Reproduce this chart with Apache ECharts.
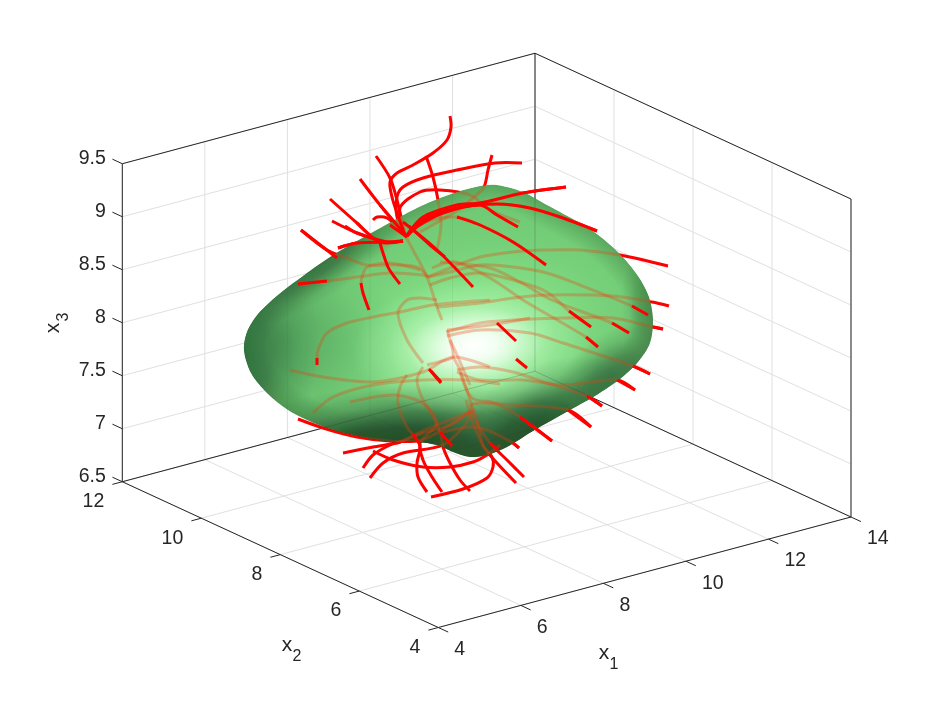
<!DOCTYPE html>
<html><head><meta charset="utf-8">
<style>html,body{margin:0;padding:0;background:#fff}#c{width:940px;height:706px}</style>
<script src="https://cdn.jsdelivr.net/npm/echarts@6/dist/echarts.min.js"></script>
</head><body><div id="c"></div>
<script>
// Axis ticks
const x1Ticks = [4, 6, 8, 10, 12, 14];
const x2Ticks = [4, 6, 8, 10, 12];
const x3Ticks = [6.5, 7, 7.5, 8, 8.5, 9, 9.5];
const x3Labels = ['6.5', '7', '7.5', '8', '8.5', '9', '9.5'];

// Surface silhouette, read in the projected view plane
const surfaceOutline = [[244,350],[247,332],[258,314],[278,295],[303,276],[327,259],[350,245],[373,232],[407,213],[430,202],[457,192],[480,186],[497,185],[523,192],[547,205],[580,223],[597,234],[620,254],[638,276],[649,297],[653,320],[650,343],[638,362],[620,379],[595,396],[570,410],[533,431],[507,447],[487,455],[470,457],[453,452],[437,445],[417,442],[390,442],[367,438],[333,430],[307,420],[288,410],[268,394],[251,373]];

// Trajectories that run behind the surface, projected view plane
const behind01 = [[450,116],[451,127],[447,140],[433,153],[413,165],[397,173],[390,182],[392,197],[397,213],[405,235]];
const behind02 = [[376,156],[390,178],[397,200],[405,235]];
const behind03 = [[426,156],[433,177],[438,200],[441,225],[437,250]];
const behind04 = [[522,163],[495,163],[457,170],[423,178],[403,187],[397,197],[397,217],[405,235]];
const behind05 = [[405,235],[400,208],[420,192],[440,190],[470,195],[490,210],[520,222]];
const behind06 = [[492,155],[488,170],[484,187],[473,198],[455,212],[420,232]];
const behind07 = [[360,179],[380,205],[407,237]];
const behind08 = [[330,199],[357,223],[380,242],[403,241]];
const behind09 = [[332,221],[357,233],[387,242],[403,241]];
const behind10 = [[301,230],[327,250],[347,258],[367,265],[390,265],[417,267],[428,277]];
const behind11 = [[338,248],[357,243],[387,242],[403,241]];
const behind12 = [[373,220],[377,217],[387,218],[397,227],[407,237]];
const behind13 = [[566,187],[523,193],[480,203],[457,205],[423,217],[407,235]];
const behind14 = [[597,231],[563,218],[530,208],[497,204],[457,208],[423,220],[407,236]];
const behind15 = [[518,227],[497,215],[480,205],[443,213],[418,226],[407,236]];
const behind16 = [[546,265],[513,242],[480,225],[457,217],[425,222],[407,236]];
const behind17 = [[668,266],[620,255],[580,250],[547,250],[513,252],[480,257],[450,268],[428,277]];
const behind18 = [[669,306],[652,302],[613,296],[547,295],[513,298],[480,303],[437,307]];
const behind19 = [[648,315],[632,306],[580,285],[547,273],[513,267],[480,265],[450,272],[428,277]];
const behind20 = [[591,327],[569,311],[547,292],[520,282],[480,273],[450,278],[430,285]];
const behind21 = [[663,329],[653,327],[613,318],[563,318],[513,320],[480,323],[447,332]];
const behind22 = [[650,374],[633,366],[563,343],[530,333],[480,330],[447,336]];
const behind23 = [[629,333],[612,323],[552,300],[520,282],[490,268],[440,262]];
const behind24 = [[598,347],[586,337],[523,300],[490,278],[455,262],[432,268]];
const behind25 = [[602,406],[587,396],[547,383],[513,372],[480,367],[457,370]];
const behind26 = [[635,390],[617,380],[563,385],[523,380],[480,380],[457,372]];
const behind27 = [[591,427],[568,410],[513,405],[480,403],[470,405]];
const behind28 = [[552,441],[520,417],[495,403],[472,398],[460,372]];
const behind29 = [[519,448],[513,443],[487,430],[470,427],[440,433]];
const behind30 = [[298,419],[323,428],[357,437],[390,441],[422,440],[450,425],[470,412]];
const behind31 = [[313,413],[333,397],[373,385],[423,380],[467,380],[500,384]];
const behind32 = [[343,453],[373,447],[400,442],[423,433],[450,425],[472,410]];
const behind33 = [[373,451],[393,460],[423,467],[450,467],[473,462],[487,455],[500,445]];
const behind34 = [[363,468],[373,455],[390,445],[400,442],[425,430],[470,412]];
const behind35 = [[370,478],[383,463],[403,453],[443,445],[465,425],[473,410]];
const behind36 = [[427,492],[418,477],[417,463],[420,445],[407,427],[398,403],[400,387],[407,375]];
const behind37 = [[442,492],[432,477],[423,460],[420,443],[437,423],[423,400],[417,380],[423,367]];
const behind38 = [[470,491],[460,480],[450,463],[443,447],[440,432],[425,405],[395,395],[350,402]];
const behind39 = [[431,497],[463,489],[487,478],[493,467],[492,457],[483,445],[477,420],[470,400],[460,370],[453,357]];
const behind40 = [[516,483],[497,463],[483,446],[472,420],[466,400]];
const behind41 = [[524,477],[507,460],[490,443],[478,425],[470,405]];

// Muted paths that stay inside the surface
const inner01 = [[405,235],[413,250],[427,277],[437,307],[442,320]];
const inner02 = [[437,300],[420,298],[407,300],[398,313],[407,340],[423,363]];
const inner03 = [[490,300],[433,305],[400,312],[373,317],[347,323],[327,333],[318,350],[317,362]];
const inner04 = [[298,284],[327,281],[357,277],[390,273],[423,275],[428,277]];
const inner05 = [[361,283],[362,277],[367,267],[390,263],[420,270]];
const inner06 = [[290,370],[323,377],[373,382],[423,372],[453,357],[490,367]];
const inner07 = [[447,330],[490,325],[530,318]];
const inner08 = [[450,340],[457,355],[470,385]];
const inner09 = [[427,365],[442,361],[453,357],[450,340],[447,330]];

const behindPaths = [behind01,behind02,behind03,behind04,behind05,behind06,behind07,behind08,behind09,behind10,behind11,behind12,behind13,behind14,behind15,behind16,behind17,behind18,behind19,behind20,behind21,behind22,behind23,behind24,behind25,behind26,behind27,behind28,behind29,behind30,behind31,behind32,behind33,behind34,behind35,behind36,behind37,behind38,behind39,behind40,behind41];
const innerPaths = [inner01,inner02,inner03,inner04,inner05,inner06,inner07,inner08,inner09];

// Trajectory ends in front of the surface
const frontPaths = [
 [[403,222],[437,250],[473,287]],[[409,226],[430,245],[445,257]],
 [[380,243],[383,253],[388,267],[393,275],[400,284]],
 [[361,283],[363,293],[369,310]],[[317,358],[317,365]],[[298,284],[327,281]],
 [[429,369],[441,383]],[[431,371],[441,382]],[[301,230],[337,258]],
 [[566,187],[523,193],[480,203],[457,205],[423,217],[407,235]],
 [[597,231],[563,218],[530,208],[497,204],[457,208],[423,220],[407,236]],
 [[518,227],[497,215],[480,205],[443,213],[418,226],[407,236]],
 [[546,265],[513,242],[480,225],[457,217]],
 [[397,213],[405,235]],[[380,205],[407,237]],[[390,225],[407,237]],
 [[338,248],[357,243],[387,242],[403,241]],[[345,226],[357,233],[387,242],[403,241]],[[357,223],[380,242],[403,241]],
 [[632,306],[648,315]],[[569,311],[591,327]],[[612,323],[629,333]],[[653,327],[663,329]],
 [[497,323],[516,341]],[[586,337],[598,347]],[[516,359],[527,368]],
 [[633,366],[650,374]],[[617,380],[635,390]],[[587,396],[602,406]],[[568,410],[591,427]],[[520,417],[552,441]],
 [[490,443],[498,450]],[[413,434],[420,445]],[[440,432],[452,446]],[[513,443],[519,448]]
];

// Soft shading spots on the surface: centre, radii, rotation, rgb, peak alpha
const shadeSpots = [
 [400,455,210,72,-4,'20,60,35',0.9],
 [535,425,100,55,-30,'20,60,35',0.72],
 [612,375,70,40,-38,'20,60,35',0.5],
 [245,355,75,100,10,'25,70,40',0.55],
 [285,340,120,90,0,'40,110,60',0.3],
 [315,262,110,38,-32,'25,70,40',0.55],
 [650,310,30,70,0,'30,80,45',0.35],
 [400,432,130,45,-8,'20,50,30',0.32]
];
const glowSpots = [
 [478,335,190,125,-8,'150,245,150',0.7],
 [472,345,120,70,-5,'205,255,205',0.95],
 [474,346,68,38,-5,'255,255,255',1.0]
];
const rimWidths = [44,40,36,32,28,24,20,16,12,8,4];

const chart = echarts.init(document.getElementById('c'), null, {renderer:'canvas'});
const RED = '#ff0000', INK = '#262626', GRID = '#e0e0e0';

const view = (a, b, c) => [438.3 + (a-4)*41.27 - (b-4)*39.5,
                           627.5 - (a-4)*11.05 - (b-4)*18.22 - (c-6.5)*106];

function seg(api, p, q, color, w) {
  const A = api.coord(p), B = api.coord(q);
  return {type:'line', shape:{x1:A[0],y1:A[1],x2:B[0],y2:B[1]}, style:{stroke:color,lineWidth:w}, silent:true};
}
function txt(api, p, s, size, align, rot) {
  const A = api.coord(p);
  return {type:'text', x:A[0], y:A[1], rotation:rot||0, silent:true,
    style:{text:s, fill:INK, font:size+'px "Liberation Sans", Arial, sans-serif', align:align, verticalAlign:'middle'}};
}
function pathEl(api, pts, color, w) {
  return {type:'polyline', shape:{points:pts.map(p=>api.coord(p)), smooth:0.3},
    style:{stroke:color,lineWidth:w,fill:null,lineCap:'butt',lineJoin:'round'}, silent:true};
}
function spot(api, s) {
  const C = api.coord([s[0],s[1]]);
  const rgb = s[5], a = s[6];
  return {type:'circle', x:C[0], y:C[1], scaleX:s[2], scaleY:s[3], rotation:-s[4]*Math.PI/180, shape:{cx:0,cy:0,r:1},
    style:{fill:{type:'radial',x:0.5,y:0.5,r:0.5,colorStops:[
      {offset:0,color:`rgba(${rgb},${a})`},{offset:0.35,color:`rgba(${rgb},${a*0.78})`},
      {offset:0.7,color:`rgba(${rgb},${a*0.25})`},{offset:1,color:`rgba(${rgb},0)`}]}}, silent:true};
}
const clip = api => ({type:'polygon', shape:{points:surfaceOutline.map(p=>api.coord(p)), smooth:0.3}});

function layer(render, z) {
  return {type:'custom', coordinateSystem:'cartesian2d', data:[[0,0]], z, silent:true, clip:false, animation:false,
    renderItem:(params, api)=>({type:'group', children:render(api)})};
}

const gridLayer = api => {
  const out = [];
  x1Ticks.forEach(t=>{
    out.push(seg(api,view(t,4,6.5),view(t,12,6.5),GRID,1));
    out.push(seg(api,view(t,12,6.5),view(t,12,9.5),GRID,1));
  });
  x2Ticks.forEach(t=>{
    out.push(seg(api,view(4,t,6.5),view(14,t,6.5),GRID,1));
    out.push(seg(api,view(14,t,6.5),view(14,t,9.5),GRID,1));
  });
  x3Ticks.forEach(t=>{
    out.push(seg(api,view(4,12,t),view(14,12,t),GRID,1));
    out.push(seg(api,view(14,12,t),view(14,4,t),GRID,1));
  });
  return out;
};
const boxEdges = [[[4,12,6.5],[4,12,9.5]],[[4,12,9.5],[14,12,9.5]],[[14,12,9.5],[14,4,9.5]],[[14,4,9.5],[14,4,6.5]],
  [[4,12,6.5],[4,4,6.5]],[[4,4,6.5],[14,4,6.5]],[[4,12,6.5],[14,12,6.5]],[[14,12,6.5],[14,4,6.5]],[[14,12,6.5],[14,12,9.5]]];
const boxLayer = api => {
  const out = boxEdges.map(e=>seg(api,view(...e[0]),view(...e[1]),INK,1));
  x1Ticks.forEach(t=>out.push(seg(api,view(t,4,6.5),view(t,3.75,6.5),INK,1)));
  x2Ticks.forEach(t=>out.push(seg(api,view(4,t,6.5),view(3.76,t,6.5),INK,1)));
  x3Ticks.forEach(t=>out.push(seg(api,view(4,12,t),view(4,12.25,t),INK,1)));
  return out;
};
const labelLayer = api => {
  const out = [];
  x1Ticks.forEach(t=>{const b=view(t,4,6.5); out.push(txt(api,[b[0]+16,b[1]+22],String(t),19.5,'left'));});
  x2Ticks.forEach(t=>{const b=view(4,t,6.5); out.push(txt(api,[b[0]-18,b[1]+20],String(t),19.5,'right'));});
  x3Ticks.forEach((t,i)=>{const b=view(4,12,t); out.push(txt(api,[b[0]-16.5,b[1]-5],x3Labels[i],19.5,'right'));});
  out.push(txt(api,[604,653],'x',21,'center'), txt(api,[614,665],'1',16,'center'));
  out.push(txt(api,[287,645],'x',21,'center'), txt(api,[297,657],'2',16,'center'));
  out.push(txt(api,[53,328],'x',21,'center',Math.PI/2), txt(api,[64,317],'3',16,'center',Math.PI/2));
  return out;
};
const surfaceLayer = api => {
  const pts = surfaceOutline.map(p=>api.coord(p));
  const kids = [{type:'polygon', shape:{points:pts,smooth:0.3}, style:{fill:'#70c974'}, silent:true}];
  glowSpots.slice(0,1).forEach(s=>kids.push(spot(api,s)));
  shadeSpots.forEach(s=>kids.push(spot(api,s)));
  rimWidths.forEach(w=>kids.push({type:'polygon',shape:{points:pts,smooth:0.3},
    style:{fill:null,stroke:'rgba(30,80,45,0.022)',lineWidth:w},silent:true}));
  glowSpots.slice(1).forEach(s=>kids.push(spot(api,s)));
  return [{type:'group', clipPath:clip(api), children:kids}];
};
const throughLayer = api => {
  const kids = [];
  boxEdges.forEach(e=>kids.push(seg(api,view(...e[0]),view(...e[1]),'rgba(38,38,38,0.16)',1)));
  x1Ticks.forEach(t=>{kids.push(seg(api,view(t,4,6.5),view(t,12,6.5),'rgba(38,38,38,0.05)',1));kids.push(seg(api,view(t,12,6.5),view(t,12,9.5),'rgba(38,38,38,0.05)',1));});
  x2Ticks.forEach(t=>{kids.push(seg(api,view(4,t,6.5),view(14,t,6.5),'rgba(38,38,38,0.05)',1));});
  behindPaths.concat(innerPaths).forEach(p=>kids.push(pathEl(api,p,'rgba(240,60,10,0.3)',3)));
  return [{type:'group', clipPath:clip(api), children:kids}];
};

chart.setOption({
  animation:false, backgroundColor:'#fff',
  grid:{left:0,right:0,top:0,bottom:0},
  xAxis:{type:'value',min:0,max:940,show:false},
  yAxis:{type:'value',min:0,max:706,inverse:true,show:false},
  series:[
    layer(gridLayer,1),
    layer(boxLayer,2),
    layer(labelLayer,3),
    layer(api=>behindPaths.map(p=>pathEl(api,p,RED,3)),4),
    layer(surfaceLayer,5),
    layer(throughLayer,6),
    layer(api=>frontPaths.map(p=>pathEl(api,p,RED,3)),7)
  ]
});
</script></body></html>
